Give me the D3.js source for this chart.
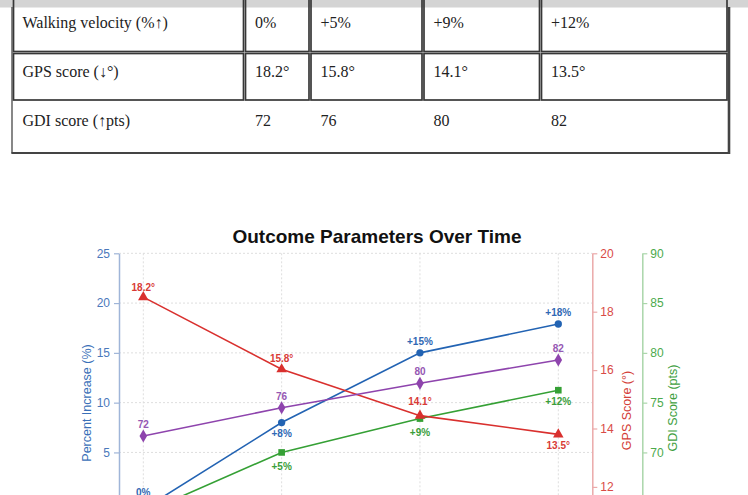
<!DOCTYPE html>
<html>
<head>
<meta charset="utf-8">
<script src="https://cdn.jsdelivr.net/npm/d3@7"></script>
<style>
  html, body { margin: 0; padding: 0; background: #fff; overflow: hidden; }
  svg { display: block; }
</style>
</head>
<body>
<svg id="page" width="748" height="495"></svg>
<script>
// ---- table data ----
const tableRowNames = ["Walking velocity (%↑)", "GPS score (↓°)", "GDI score (↑pts)"];
const tableValues = [
    ["0%", "+5%", "+9%", "+12%"],
    ["18.2°", "15.8°", "14.1°", "13.5°"],
    ["72", "76", "80", "82"]
];

// ---- chart data ----
const timepoints = ["Baseline", "3 months", "6 months", "12 months"];
const increaseValues = [-0.7, 8, 15, 17.9];
const increaseLabels = ["0%", "+8%", "+15%", "+18%"];
const velocityValues = [-1.1, 5, 8.4, 11.25];
const velocityLabels = ["0%", "+5%", "+9%", "+12%"];
const gpsValues = [18.5, 16.03, 14.44, 13.8];
const gpsLabels = ["18.2°", "15.8°", "14.1°", "13.5°"];
const gdiValues = [71.65, 74.49, 76.94, 79.28];
const gdiLabels = ["72", "76", "80", "82"];
const pctTicks = [-5, 0, 5, 10, 15, 20, 25];
const gpsTicks = [10, 12, 14, 16, 18, 20];
const gdiTicks = [60, 65, 70, 75, 80, 85, 90];

const svg = d3.select("#page");

// grey strip at the very top
svg.append("rect").attr("x", 0).attr("y", 0).attr("width", 748).attr("height", 7.5).attr("fill", "#d4d4d4");

// ---- table ----
const colEdges = [[13.5, 243.5], [245.5, 309], [311, 422], [424, 539.5], [541.5, 727]];
const rowEdges = [[-40, 51.5], [53.5, 100], [101.5, 153]];
const rowBaselines = [28, 77, 126];

const table = svg.append("g");

// outer border
table.append("line").attr("x1", 12).attr("x2", 12).attr("y1", 7).attr("y2", 153.5)
    .attr("stroke", "#555").attr("stroke-width", 1.4);
table.append("line").attr("x1", 729).attr("x2", 729).attr("y1", 7).attr("y2", 154)
    .attr("stroke", "#444").attr("stroke-width", 2.6);
table.append("line").attr("x1", 11.5).attr("x2", 730).attr("y1", 153).attr("y2", 153)
    .attr("stroke", "#444").attr("stroke-width", 1.8);

tableRowNames.forEach((name, r) => {
    const cells = [name].concat(tableValues[r]);
    const row = table.append("g");
    // only the first two rows have visible cell borders
    if (r < 2) {
        row.selectAll("rect")
            .data(colEdges)
            .join("rect")
            .attr("x", d => d[0])
            .attr("y", rowEdges[r][0])
            .attr("width", d => d[1] - d[0])
            .attr("height", rowEdges[r][1] - rowEdges[r][0])
            .attr("fill", "none")
            .attr("stroke", "#383838")
            .attr("stroke-width", 1.7);
    }
    row.selectAll("text")
        .data(cells)
        .join("text")
        .attr("x", (d, i) => i === 0 ? 22.5 : colEdges[i][0] + 9.5)
        .attr("y", rowBaselines[r])
        .attr("font-family", "'Liberation Serif', 'Times New Roman', serif")
        .attr("font-size", 16)
        .attr("fill", "#222")
        .text(d => d);
});

// ---- chart ----
const plot = {left: 119, right: 592.3, top: 253.3, bottom: 552};

const x = d3.scalePoint().domain(timepoints).range([143.3, 558.3]);
const yPct = d3.scaleLinear().domain([-5, 25]).range([plot.bottom, plot.top]);
const yGps = d3.scaleLinear().domain([10, 20]).range([545.3, plot.top]);
const yGdi = d3.scaleLinear().domain([60, 90]).range([plot.bottom, plot.top]);

const chart = svg.append("g").attr("font-family", "'Liberation Sans', Arial, sans-serif");

// title
chart.append("text")
    .attr("x", 377).attr("y", 243)
    .attr("text-anchor", "middle")
    .attr("font-size", 19).attr("font-weight", "bold")
    .attr("fill", "#111")
    .text("Outcome Parameters Over Time");

// grid
const grid = chart.append("g").attr("stroke", "#dedede").attr("stroke-width", 1).attr("stroke-dasharray", "2,2");
grid.selectAll(".hgrid")
    .data(pctTicks)
    .join("line")
    .attr("class", "hgrid")
    .attr("x1", plot.left).attr("x2", plot.right)
    .attr("y1", d => yPct(d)).attr("y2", d => yPct(d));
grid.selectAll(".vgrid")
    .data(timepoints)
    .join("line")
    .attr("class", "vgrid")
    .attr("x1", d => x(d)).attr("x2", d => x(d))
    .attr("y1", plot.top).attr("y2", plot.bottom);

// axes
function styleAxis(g, lineColor, textColor) {
    g.select(".domain").attr("stroke", lineColor).attr("stroke-width", 1.5);
    g.selectAll(".tick line").attr("stroke", lineColor).attr("stroke-width", 1.2);
    g.selectAll(".tick text").attr("fill", textColor).attr("font-size", 12)
        .attr("font-family", "'Liberation Sans', Arial, sans-serif");
}

chart.append("g")
    .attr("transform", `translate(${plot.left},0)`)
    .call(d3.axisLeft(yPct).tickValues(pctTicks).tickSize(5).tickSizeOuter(0).tickPadding(4))
    .call(g => styleAxis(g, "#9fb5d8", "#4a78bb"));

chart.append("g")
    .attr("transform", `translate(${plot.right},0)`)
    .call(d3.axisRight(yGps).tickValues(gpsTicks).tickSize(5).tickSizeOuter(0).tickPadding(3))
    .call(g => styleAxis(g, "#eba9a9", "#d94a46"));

chart.append("g")
    .attr("transform", "translate(642.3,0)")
    .call(d3.axisRight(yGdi).tickValues(gdiTicks).tickSize(5).tickSizeOuter(0).tickPadding(3))
    .call(g => styleAxis(g, "#aad6aa", "#4caa4c"));

chart.append("g")
    .attr("transform", `translate(0,${plot.bottom})`)
    .call(d3.axisBottom(x).tickSize(5))
    .call(g => styleAxis(g, "#bbb", "#555"));

// axis titles
const axisTitles = [
    {text: "Percent Increase (%)", x: 91, y: 403, color: "#3a70b8"},
    {text: "GPS Score (°)", x: 630.5, y: 410.5, color: "#d43f3a"},
    {text: "GDI Score (pts)", x: 677, y: 408, color: "#3f9f3f"}
];
chart.selectAll(".axis-title")
    .data(axisTitles)
    .join("text")
    .attr("class", "axis-title")
    .attr("transform", d => `translate(${d.x},${d.y}) rotate(-90)`)
    .attr("text-anchor", "middle")
    .attr("font-size", 12.5)
    .attr("fill", d => d.color)
    .text(d => d.text);

// series (offsets: label shift from its point, negative = above)
const series = [
    {values: increaseValues, labels: increaseLabels, y: yPct, color: "#2263b3", labelColor: "#2f68b4",
        symbol: d3.symbolCircle, size: 42, offsets: [-16.5, 11, -11, -11]},
    {values: velocityValues, labels: velocityLabels, y: yPct, color: "#35a035", labelColor: "#3a9e3a",
        symbol: d3.symbolSquare, size: 44, offsets: [14, 14, 14, 11]},
    {values: gpsValues, labels: gpsLabels, y: yGps, color: "#d9302e", labelColor: "#d83a36",
        symbol: d3.symbolTriangle, size: 48, offsets: [-10, -11, -14, 11.5]},
    {values: gdiValues, labels: gdiLabels, y: yGdi, color: "#8e44ad", labelColor: "#9557b3",
        symbol: d3.symbolDiamond, size: 50, offsets: [-11.5, -11, -11.5, -11.5]}
];

series.forEach(s => {
    const pts = timepoints.map((t, i) => ({t: t, v: s.values[i], label: s.labels[i], off: s.offsets[i]}));
    const g = chart.append("g");

    const line = d3.line().x(d => x(d.t)).y(d => s.y(d.v));
    g.append("path")
        .datum(pts)
        .attr("d", line)
        .attr("fill", "none")
        .attr("stroke", s.color)
        .attr("stroke-width", 1.6);

    g.selectAll(".marker")
        .data(pts)
        .join("path")
        .attr("class", "marker")
        .attr("transform", d => `translate(${x(d.t)},${s.y(d.v)})`)
        .attr("d", d3.symbol().type(s.symbol).size(s.size))
        .attr("fill", s.color);

    g.selectAll(".point-label")
        .data(pts)
        .join("text")
        .attr("class", "point-label")
        .attr("x", d => x(d.t))
        .attr("y", d => s.y(d.v) + d.off)
        .attr("dy", "0.35em")
        .attr("text-anchor", "middle")
        .attr("font-size", 10)
        .attr("font-weight", "bold")
        .attr("fill", s.labelColor)
        .text(d => d.label);
});
</script>
</body>
</html>
